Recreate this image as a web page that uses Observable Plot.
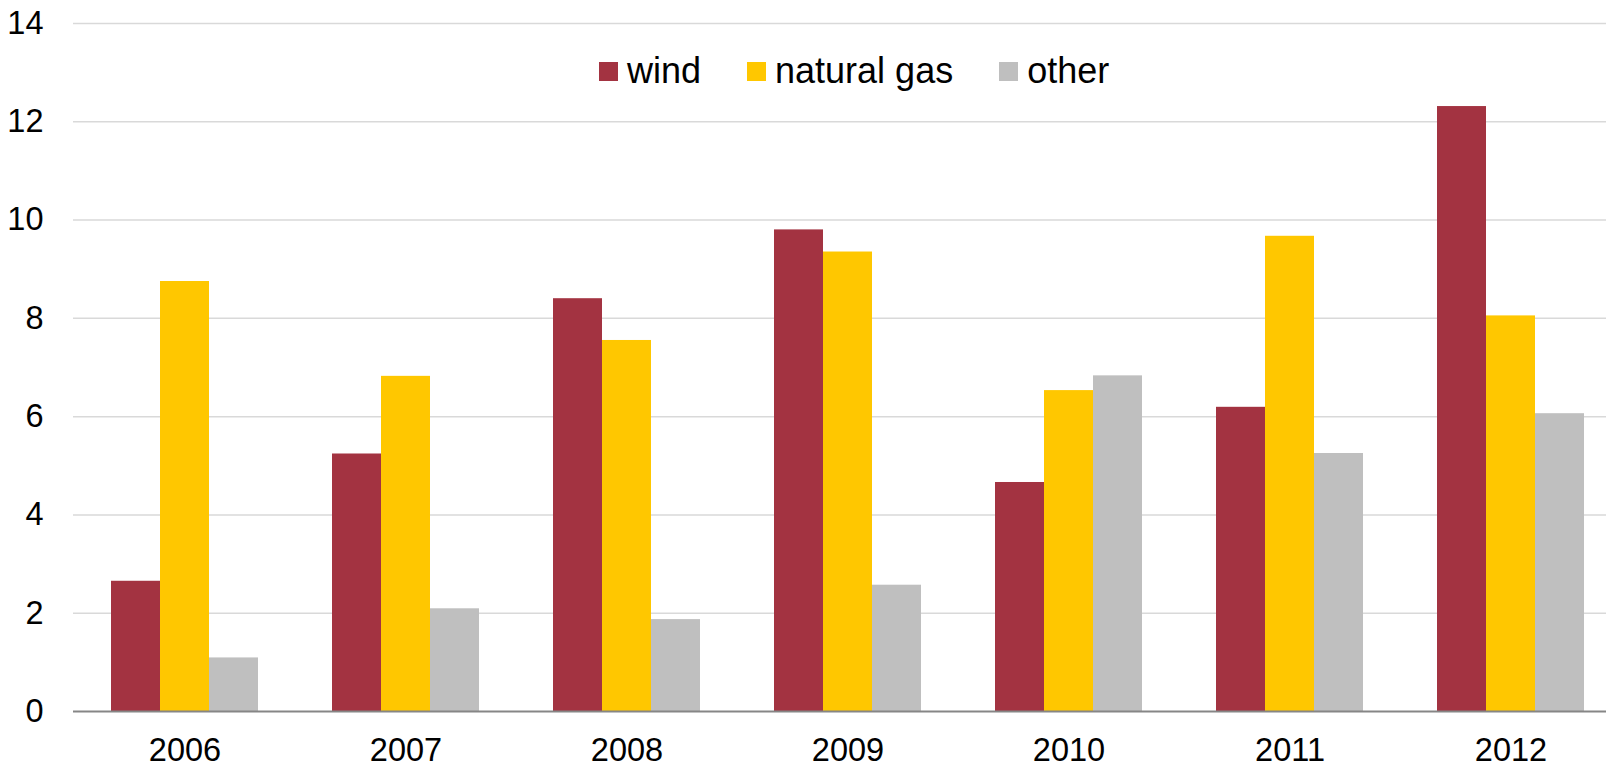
<!DOCTYPE html>
<html>
<head>
<meta charset="utf-8">
<script src="https://cdn.jsdelivr.net/npm/d3@7"></script>
<script src="https://cdn.jsdelivr.net/npm/@observablehq/plot@0.6"></script>
<style>
  html, body { margin: 0; padding: 0; background: #fff; overflow: hidden; }
  #chart { position: relative; width: 1606px; height: 762px; font-family: "Liberation Sans", Arial, sans-serif; }
  #chart svg { position: absolute; left: 0; top: 0; }
  #legend { position: absolute; left: 599px; top: 51px; display: flex; align-items: center; font-size: 36px; color: #000; line-height: 40px; }
  .item { display: flex; align-items: center; margin-right: 46px; }
  .item:last-child { margin-right: 0; }
  .sw { width: 19px; height: 19px; margin-right: 9px; margin-top: 1px; }
</style>
</head>
<body>
<div id="chart"></div>
<script>
const years = ["2006", "2007", "2008", "2009", "2010", "2011", "2012"];
const seriesNames = ["wind", "natural gas", "other"];
const seriesColors = ["#A33341", "#FFC700", "#BFBFBF"];
const windValues = [2.65, 5.24, 8.40, 9.80, 4.66, 6.19, 12.31];
const gasValues = [8.75, 6.82, 7.55, 9.35, 6.53, 9.67, 8.05];
const otherValues = [1.09, 2.09, 1.87, 2.57, 6.83, 5.25, 6.06];
const yTicks = [0, 2, 4, 6, 8, 10, 12, 14];

const seriesValues = [windValues, gasValues, otherValues];
const table = [];
years.forEach((yr, i) => {
  seriesNames.forEach((s, j) => table.push({year: yr, series: s, value: seriesValues[j][i]}));
});

const W = 1606, H = 762;
const fontStyle = {fontFamily: "'Liberation Sans', Arial, sans-serif", fontSize: "32.5px", color: "#000"};
const common = {
  width: W, height: H,
  marginTop: 23, marginBottom: 51, marginLeft: 73, marginRight: 0
};

// Layer 1: gridlines and y axis
const back = Plot.plot({
  ...common,
  style: {...fontStyle, background: "white"},
  y: {domain: [0, 14], axis: null},
  marks: [
    Plot.ruleY(yTicks.filter(d => d !== 0), {stroke: "#D9D9D9", strokeWidth: 1.5}),
    Plot.axisY(yTicks, {tickSize: 0, tickPadding: 30, label: null, fontSize: 32.5, fill: "#000"})
  ]
});

// Layer 2: grouped bars and year labels
const front = Plot.plot({
  ...common,
  style: {...fontStyle, background: "transparent"},
  fx: {domain: years, range: [73, 1622], paddingInner: 0.3357, paddingOuter: 0.168, axis: "bottom", tickSize: 0, tickPadding: 26, label: null},
  x: {domain: seriesNames, padding: 0, axis: null},
  y: {domain: [0, 14], axis: null},
  color: {domain: seriesNames, range: seriesColors},
  marks: [
    Plot.barY(table, {fx: "year", x: "series", y: "value", fill: "series"})
  ]
});

// Layer 3: baseline on top of the bars
const base = Plot.plot({
  ...common,
  style: {...fontStyle, background: "transparent"},
  y: {domain: [0, 14], axis: null},
  marks: [
    Plot.ruleY([0], {stroke: "#868686", strokeWidth: 2})
  ]
});

const chart = document.getElementById("chart");
chart.appendChild(back);
chart.appendChild(front);
chart.appendChild(base);

// Legend (inside the plot area, as in the reference)
const legend = document.createElement("div");
legend.id = "legend";
seriesNames.forEach((s, j) => {
  const item = document.createElement("div");
  item.className = "item";
  const sw = document.createElement("div");
  sw.className = "sw";
  sw.style.background = seriesColors[j];
  const label = document.createElement("span");
  label.textContent = s;
  item.appendChild(sw);
  item.appendChild(label);
  legend.appendChild(item);
});
chart.appendChild(legend);
</script>
</body>
</html>
